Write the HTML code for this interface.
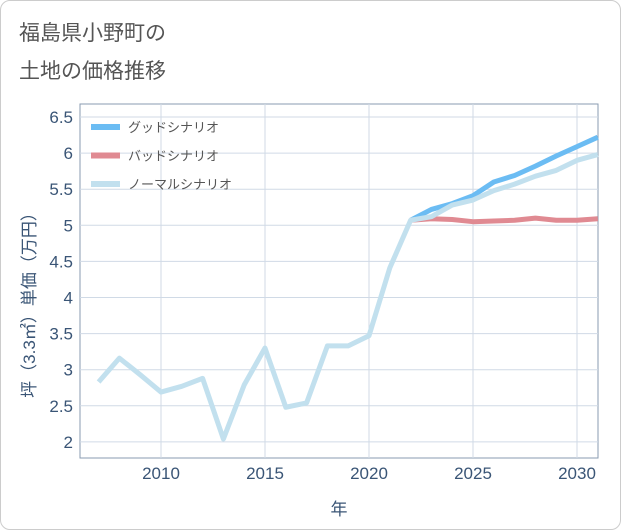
<!DOCTYPE html>
<html><head><meta charset="utf-8"><style>
body{margin:0;background:#fff;font-family:"Liberation Sans","Noto Sans CJK JP",sans-serif;}
#card{position:absolute;left:0;top:0;width:619px;height:528px;border:1px solid #ccc;border-radius:10px;background:#fff;}
.title{position:absolute;left:18px;font-size:21px;color:#555;}
</style></head><body>
<div id="card">
<div class="title" style="top:16px">福島県小野町の</div>
<div class="title" style="top:54px">土地の価格推移</div>
<svg id="chart" width="621" height="530" style="position:absolute;left:0;top:0"></svg>
</div>
<script>
const years=[2007,2008,2009,2010,2011,2012,2013,2014,2015,2016,2017,2018,2019,2020,2021,2022,2023,2024,2025,2026,2027,2028,2029,2030,2031];
const normal=[2.83,3.16,2.93,2.69,2.77,2.88,2.04,2.79,3.30,2.48,2.54,3.33,3.33,3.47,4.41,5.07,5.12,5.28,5.35,5.48,5.57,5.68,5.76,5.90,5.98];
const futureYears=[2022,2023,2024,2025,2026,2027,2028,2029,2030,2031];
const good=[5.07,5.22,5.30,5.41,5.60,5.69,5.82,5.96,6.09,6.22];
const bad=[5.07,5.09,5.08,5.05,5.06,5.07,5.10,5.07,5.07,5.09];
const yTicks=[2,2.5,3,3.5,4,4.5,5,5.5,6,6.5];
const xTicks=[2010,2015,2020,2025,2030];
const NS="http://www.w3.org/2000/svg",svg=document.getElementById('chart');
const L=79,R=597,T=103,B=457;
const x=v=>160+(v-2010)*20.8;
const y=v=>116+(6.5-v)*72.2;
function mk(t,a,p){const e=document.createElementNS(NS,t);for(const k in a)e.setAttribute(k,a[k]);(p||svg).appendChild(e);return e;}
const bg=mk('rect',{x:L,y:T,width:R-L,height:B-T,fill:'#fff',stroke:'#8a9bb0','stroke-width':1});


yTicks.forEach(v=>{
 const g=mk('line',{x1:L,x2:R,y1:y(v),y2:y(v),stroke:'#d0dae6','stroke-width':1});
 
 
 const t=mk('text',{x:72,y:y(v)+6,'text-anchor':'end','font-size':17,fill:'#3a5576'});
 t.textContent=String(v);
 
 
});
xTicks.forEach(v=>{
 const g=mk('line',{x1:x(v),x2:x(v),y1:T,y2:B,stroke:'#d0dae6','stroke-width':1});
 
 
 const t=mk('text',{x:x(v),y:478,'text-anchor':'middle','font-size':17,fill:'#3a5576'});
 t.textContent=String(v);
 
 
});
function line(xs,vs,color,name){
 const p=mk('polyline',{points:xs.map((d,i)=>x(d)+','+y(vs[i])).join(' '),fill:'none',stroke:color,'stroke-width':5,'stroke-linejoin':'round'});
 
 
}
line(futureYears,good,'#6bbcf3','good-scenario-line');
line(futureYears,bad,'#e08a92','bad-scenario-line');
line(years,normal,'#c2e0ee','normal-scenario-line');
const leg=[['グッドシナリオ','#6bbcf3'],['バッドシナリオ','#e08a92'],['ノーマルシナリオ','#c2e0ee']];
leg.forEach((d,i)=>{
 const yy=126+i*28.5;
 const r=mk('rect',{x:90,y:yy-3,width:29,height:6,fill:d[1]});
 
 
 const t=mk('text',{x:127,y:yy+5,'font-size':13,fill:'#555'});
 t.textContent=d[0];
 
 
});
const xt=mk('text',{x:338,y:514,'text-anchor':'middle','font-size':17,fill:'#3a5576'});
xt.textContent='年';


const yt=mk('text',{x:0,y:0,'text-anchor':'middle','font-size':17,fill:'#3a5576',transform:'translate(34,300) rotate(-90)'});
yt.textContent='坪（3.3㎡）単価（万円）';


</script>
</body></html>
